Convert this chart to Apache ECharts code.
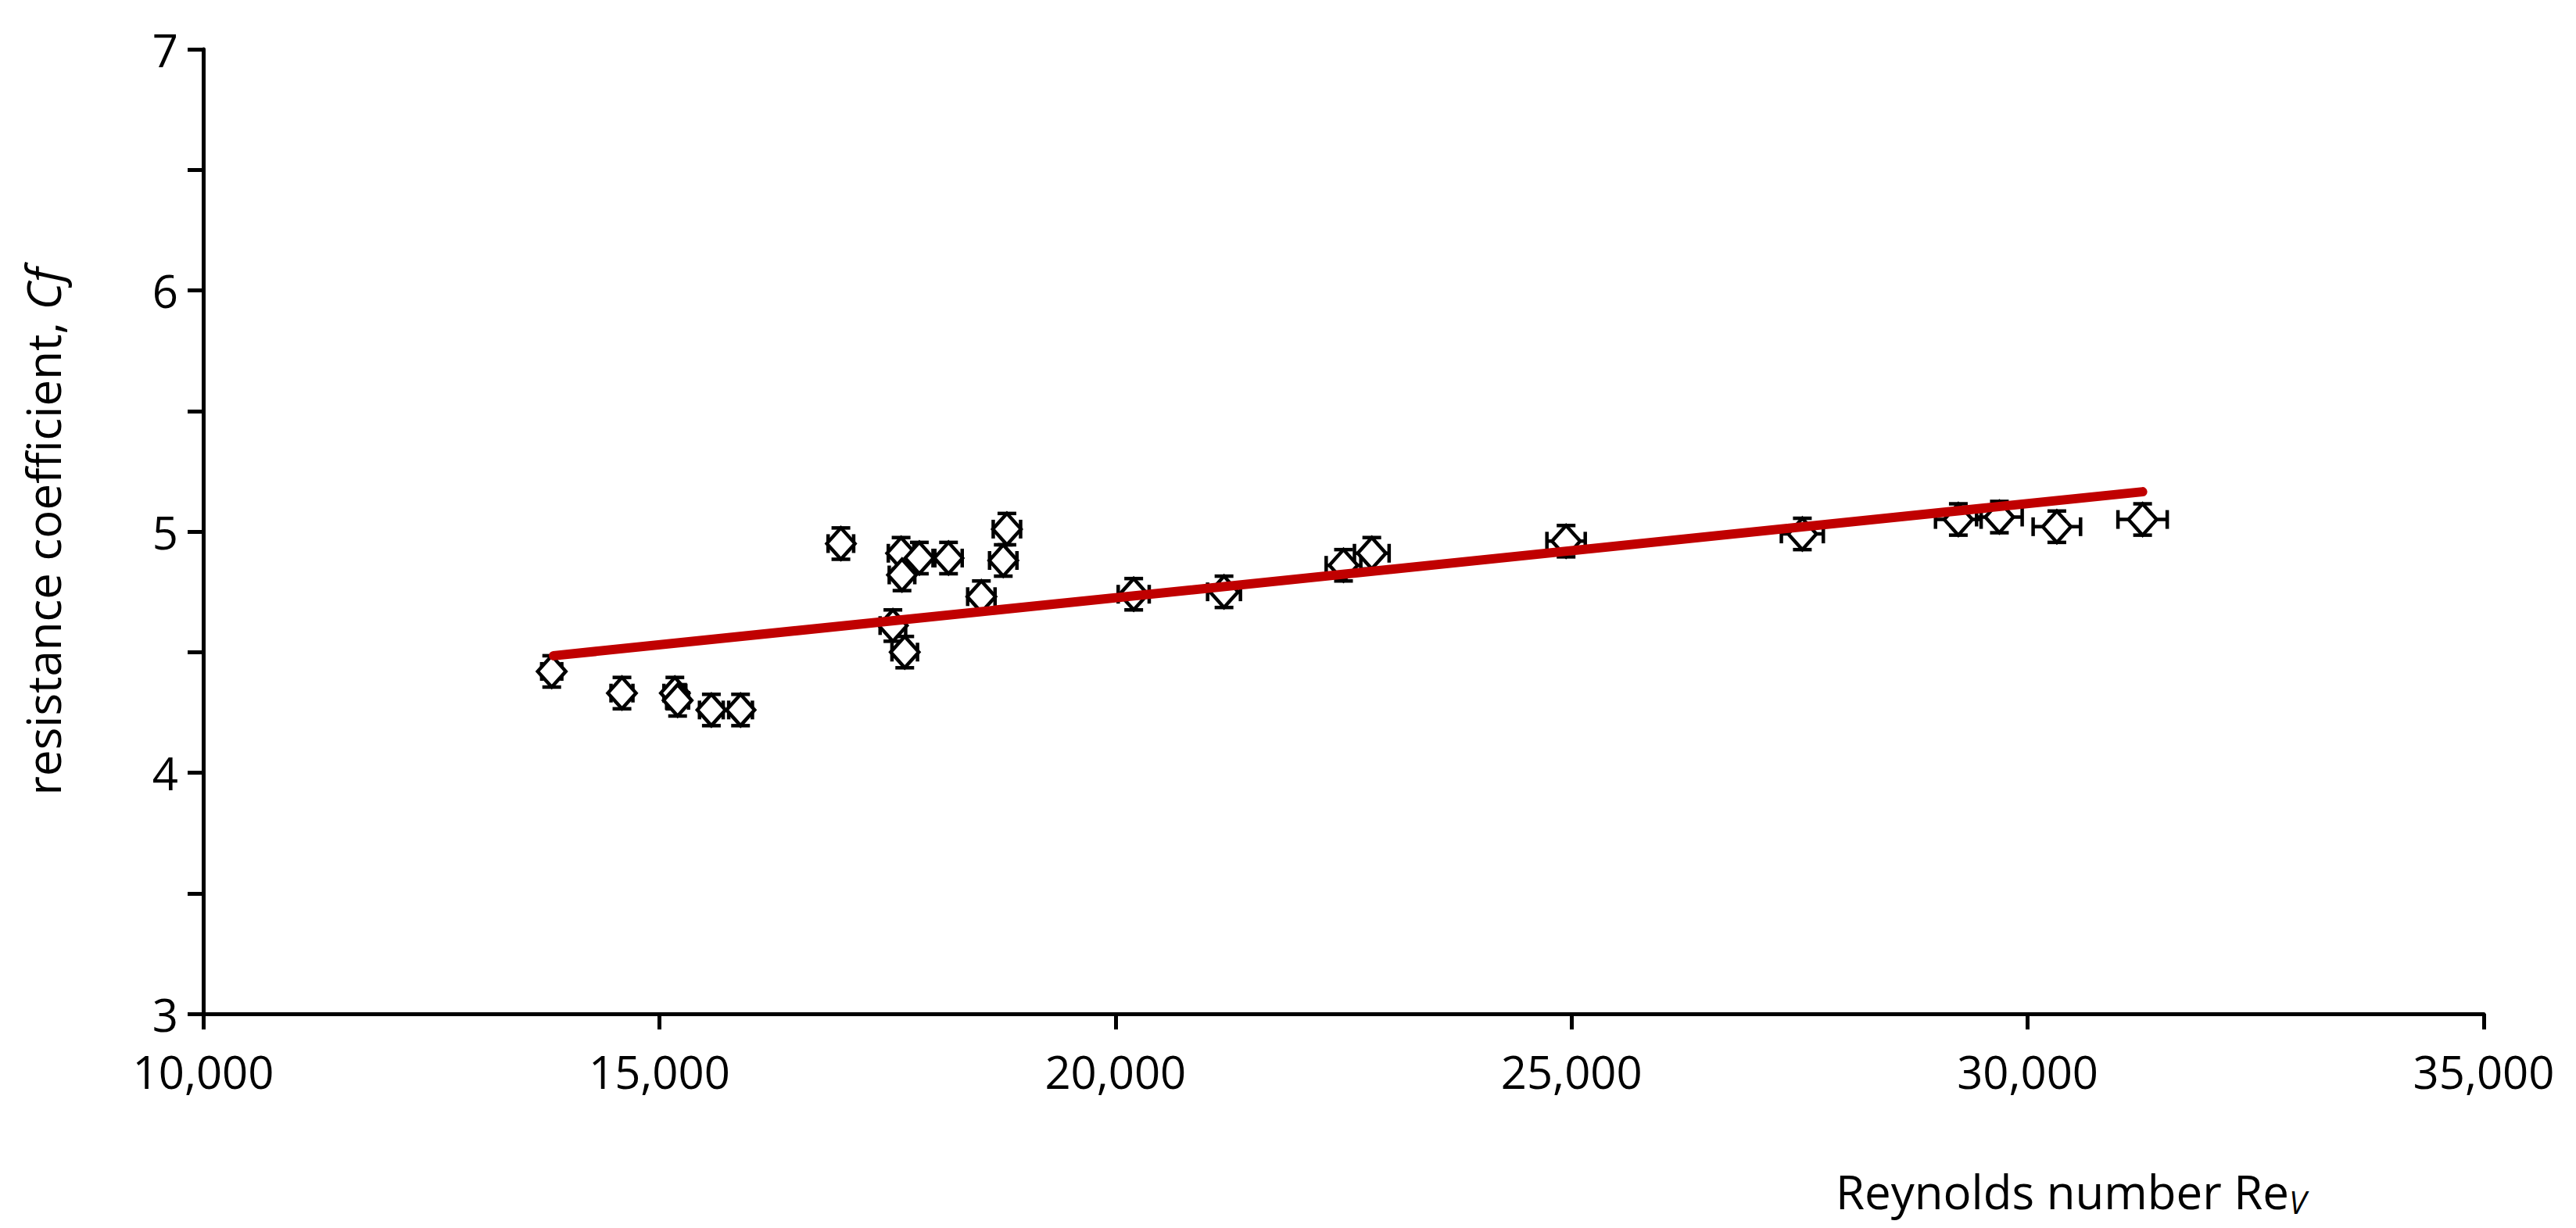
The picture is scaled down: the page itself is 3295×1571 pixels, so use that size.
<!DOCTYPE html>
<html>
<head>
<meta charset="utf-8">
<script src="https://cdn.jsdelivr.net/npm/echarts@6/dist/echarts.min.js"></script>
<style>html,body{margin:0;padding:0;background:#fff}#chart{width:3295px;height:1571px}</style>
</head>
<body>
<div id="chart"></div>
<script>
// measured points: Reynolds number and resistance coefficient
var reValues = [13820, 14590, 15170, 15200, 15570, 15890, 16990, 17560, 17650, 17660, 17690, 17850, 18170, 18530, 18770, 18810, 20200, 21190, 22500, 22810, 24940, 27530, 29240, 29690, 30320, 31260];
var cfValues = [4.42, 4.33, 4.33, 4.30, 4.26, 4.26, 4.95, 4.61, 4.91, 4.82, 4.50, 4.89, 4.89, 4.73, 4.88, 5.01, 4.74, 4.75, 4.86, 4.91, 4.96, 4.99, 5.05, 5.06, 5.02, 5.05];
var reErr = [110, 120, 120, 120, 130, 130, 140, 140, 140, 140, 140, 150, 150, 150, 150, 150, 170, 180, 190, 190, 210, 230, 250, 250, 260, 270];
var cfErr = 0.065;
// linear fit line end points
var fitRe = [13840, 31260];
var fitCf = [4.485, 5.165];

var font = 'Open Sans';
var chart = echarts.init(document.getElementById('chart'), null, { renderer: 'svg' });

var pts = reValues.map(function(x, i) { return [x, cfValues[i]]; });
var errData = reValues.map(function(x, i) { return [x, cfValues[i], reErr[i]]; });

chart.setOption({
  animation: false,
  grid: { left: 260, right: 118, top: 63, bottom: 274 },
  xAxis: {
    type: 'value', min: 10000, max: 35000, interval: 5000,
    axisLine: { onZero: false, lineStyle: { color: '#000', width: 5 } },
    axisTick: { length: 20, lineStyle: { color: '#000', width: 5 } },
    splitLine: { show: false },
    axisLabel: {
      color: '#000', fontFamily: font, fontSize: 58, margin: 44,
      formatter: function(v) { return v.toLocaleString('en-US'); }
    }
  },
  yAxis: {
    type: 'value', min: 3, max: 7, interval: 0.5,
    axisLine: { show: true, onZero: false, lineStyle: { color: '#000', width: 5 } },
    axisTick: { show: true, length: 20, lineStyle: { color: '#000', width: 5 } },
    splitLine: { show: false },
    axisLabel: {
      color: '#000', fontFamily: font, fontSize: 58, margin: 32,
      formatter: function(v) { return v % 1 === 0 ? String(v) : ''; }
    },
    name: '{n|resistance coefficient, }{i|Cf}',
    nameLocation: 'middle', nameGap: 175,
    nameTextStyle: {
      rich: {
        n: { fontFamily: font, fontSize: 60, color: '#000' },
        i: { fontFamily: font, fontSize: 60, color: '#000', fontStyle: 'italic' }
      }
    },
    nameRotate: 90
  },
  series: [
    {
      type: 'custom',
      data: errData,
      z: 2,
      renderItem: function(params, api) {
        var x = api.value(0), y = api.value(1), ex = api.value(2);
        var c = api.coord([x, y]);
        var top = api.coord([x, y + cfErr]), bot = api.coord([x, y - cfErr]);
        var lft = api.coord([x - ex, y]), rgt = api.coord([x + ex, y]);
        var cap = 12;
        var st = { stroke: '#000', lineWidth: 4.5 };
        return {
          type: 'group',
          children: [
            { type: 'line', shape: { x1: c[0], y1: top[1], x2: c[0], y2: bot[1] }, style: st },
            { type: 'line', shape: { x1: c[0] - cap, y1: top[1], x2: c[0] + cap, y2: top[1] }, style: st },
            { type: 'line', shape: { x1: c[0] - cap, y1: bot[1], x2: c[0] + cap, y2: bot[1] }, style: st },
            { type: 'line', shape: { x1: lft[0], y1: c[1], x2: rgt[0], y2: c[1] }, style: st },
            { type: 'line', shape: { x1: lft[0], y1: c[1] - cap, x2: lft[0], y2: c[1] + cap }, style: st },
            { type: 'line', shape: { x1: rgt[0], y1: c[1] - cap, x2: rgt[0], y2: c[1] + cap }, style: st }
          ]
        };
      }
    },
    {
      type: 'scatter',
      data: pts,
      z: 3,
      symbol: 'diamond',
      symbolSize: [36, 40],
      itemStyle: { color: '#fff', borderColor: '#000', borderWidth: 4.5, opacity: 1 }
    },
    {
      type: 'line',
      data: [[fitRe[0], fitCf[0]], [fitRe[1], fitCf[1]]],
      z: 4,
      symbol: 'none',
      lineStyle: { color: '#C00000', width: 12, cap: 'round' }
    }
  ],
  graphic: [{
    type: 'text',
    right: 345, bottom: 14,
    style: {
      text: '{n|Reynolds number Re}{s|V}',
      rich: {
        n: { fontFamily: font, fontSize: 60, fill: '#000' },
        s: { fontFamily: font, fontSize: 40, fill: '#000', fontStyle: 'italic', padding: [26, 0, 0, 0] }
      }
    }
  }]
});
</script>
</body>
</html>
